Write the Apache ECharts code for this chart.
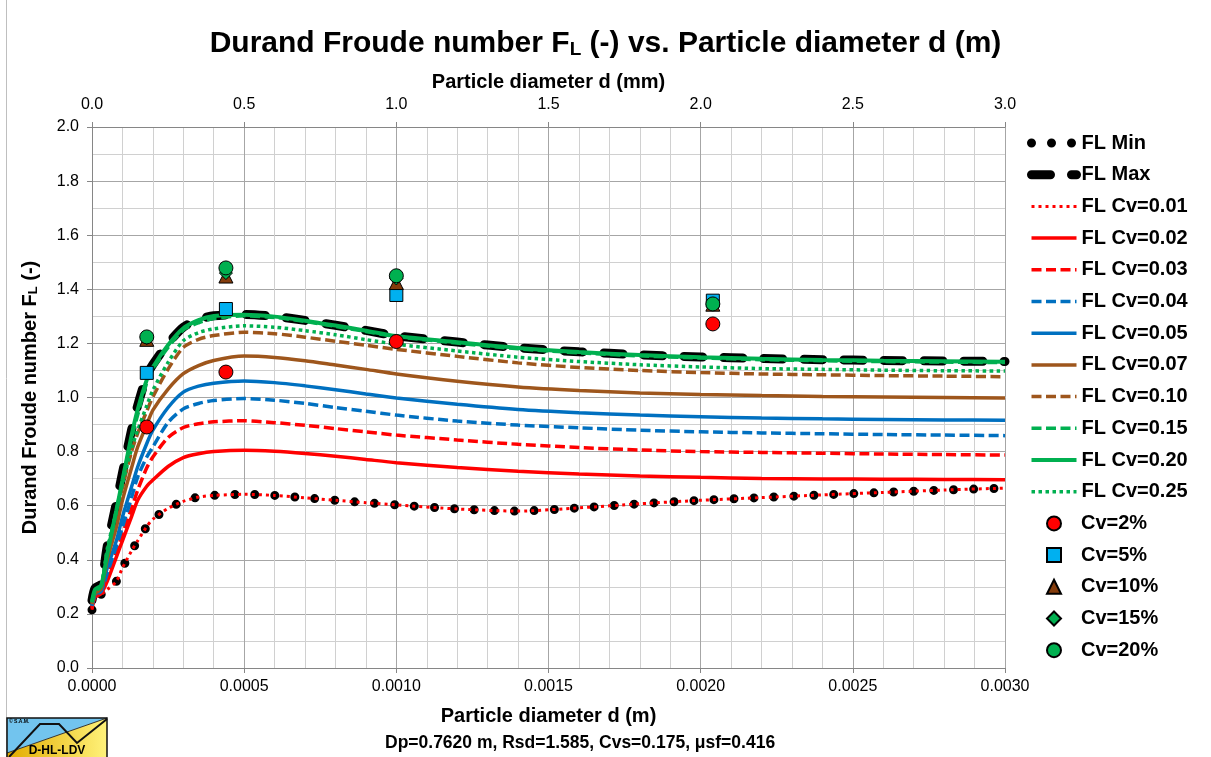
<!DOCTYPE html>
<html><head><meta charset="utf-8">
<script src="https://cdn.jsdelivr.net/npm/echarts@6/dist/echarts.min.js"></script>
<style>html,body{margin:0;padding:0;background:#fff}#c{width:1211px;height:757px}</style>
</head><body><div id="c"></div>
<script>
// Particle diameter d (m)
const dValues = [0, 0.00001, 0.00003, 0.00005, 0.00008, 0.0001, 0.00013, 0.00015, 0.00018, 0.0002, 0.00025, 0.0003, 0.00035, 0.0004, 0.0005, 0.0006, 0.0007, 0.0008, 0.0009, 0.001, 0.0012, 0.0014, 0.0016, 0.0018, 0.002, 0.0022, 0.0024, 0.0026, 0.0028, 0.003];
const flMin  = [0.215, 0.262, 0.272, 0.29, 0.32, 0.37, 0.433, 0.47, 0.523, 0.55, 0.59, 0.616, 0.632, 0.638, 0.642, 0.638, 0.629, 0.620, 0.611, 0.603, 0.588, 0.580, 0.592, 0.607, 0.620, 0.630, 0.640, 0.649, 0.658, 0.665];
const flMax  = [0.25, 0.295, 0.31, 0.45, 0.61, 0.72, 0.88, 0.97, 1.08, 1.122, 1.2, 1.26, 1.288, 1.302, 1.307, 1.300, 1.285, 1.267, 1.248, 1.228, 1.205, 1.184, 1.169, 1.158, 1.150, 1.144, 1.140, 1.137, 1.135, 1.133];
const flCv001 = [0.215, 0.262, 0.272, 0.29, 0.32, 0.37, 0.433, 0.47, 0.523, 0.55, 0.59, 0.616, 0.632, 0.638, 0.642, 0.638, 0.629, 0.620, 0.611, 0.603, 0.588, 0.580, 0.592, 0.607, 0.620, 0.630, 0.640, 0.649, 0.658, 0.665];
const flCv002 = [0.22, 0.262, 0.275, 0.32, 0.41, 0.47, 0.56, 0.62, 0.672, 0.695, 0.745, 0.778, 0.792, 0.800, 0.805, 0.801, 0.793, 0.783, 0.771, 0.759, 0.741, 0.727, 0.717, 0.710, 0.705, 0.701, 0.699, 0.698, 0.697, 0.696];
const flCv003 = [0.225, 0.265, 0.28, 0.34, 0.43, 0.496, 0.59, 0.657, 0.74, 0.78, 0.852, 0.889, 0.903, 0.910, 0.914, 0.907, 0.897, 0.885, 0.873, 0.861, 0.843, 0.827, 0.815, 0.806, 0.800, 0.797, 0.794, 0.791, 0.789, 0.787];
const flCv004 = [0.23, 0.268, 0.283, 0.35, 0.45, 0.521, 0.63, 0.706, 0.78, 0.817, 0.908, 0.958, 0.978, 0.989, 0.996, 0.990, 0.978, 0.963, 0.949, 0.935, 0.913, 0.898, 0.888, 0.879, 0.873, 0.869, 0.866, 0.863, 0.861, 0.859];
const flCv005 = [0.232, 0.272, 0.287, 0.37, 0.47, 0.558, 0.67, 0.743, 0.83, 0.879, 0.963, 1.020, 1.042, 1.053, 1.061, 1.055, 1.043, 1.029, 1.013, 0.998, 0.975, 0.956, 0.944, 0.935, 0.929, 0.924, 0.921, 0.919, 0.917, 0.916];
const flCv007 = [0.236, 0.276, 0.292, 0.40, 0.52, 0.62, 0.74, 0.817, 0.90, 0.953, 1.031, 1.088, 1.118, 1.137, 1.153, 1.148, 1.136, 1.120, 1.104, 1.087, 1.060, 1.039, 1.026, 1.017, 1.011, 1.007, 1.004, 1.002, 1.000, 0.998];
const flCv010 = [0.24, 0.28, 0.296, 0.43, 0.57, 0.669, 0.80, 0.867, 0.95, 1.002, 1.105, 1.185, 1.215, 1.229, 1.241, 1.236, 1.223, 1.208, 1.193, 1.178, 1.152, 1.128, 1.111, 1.100, 1.092, 1.087, 1.084, 1.081, 1.079, 1.077];
const flCv015 = [0.242, 0.286, 0.302, 0.43, 0.58, 0.69, 0.85, 0.935, 1.055, 1.105, 1.185, 1.25, 1.276, 1.292, 1.302, 1.296, 1.281, 1.263, 1.244, 1.225, 1.201, 1.180, 1.165, 1.154, 1.146, 1.140, 1.136, 1.133, 1.131, 1.129];
const flCv020 = [0.245, 0.29, 0.305, 0.42, 0.583, 0.694, 0.86, 0.955, 1.065, 1.112, 1.194, 1.256, 1.286, 1.301, 1.306, 1.299, 1.284, 1.266, 1.247, 1.227, 1.204, 1.183, 1.168, 1.157, 1.149, 1.143, 1.139, 1.136, 1.134, 1.132];
const flCv025 = [0.245, 0.285, 0.30, 0.44, 0.58, 0.68, 0.81, 0.879, 0.97, 1.027, 1.13, 1.21, 1.24, 1.254, 1.265, 1.260, 1.247, 1.232, 1.214, 1.197, 1.172, 1.149, 1.133, 1.121, 1.113, 1.107, 1.104, 1.101, 1.099, 1.098];
// measured points
const measD = [0.00018, 0.00044, 0.001, 0.00204];
const meas2  = [0.891, 1.094, 1.207, 1.272];
const meas5  = [1.091, 1.327, 1.379, 1.358];
const meas10 = [1.215, 1.449, 1.425, 1.345];
const meas15 = [1.220, 1.460, 1.440, 1.345];
const meas20 = [1.224, 1.479, 1.450, 1.346];
// tick labels
const yTicks = [0, 0.2, 0.4, 0.6, 0.8, 1.0, 1.2, 1.4, 1.6, 1.8, 2.0];

const FONT = '"Liberation Sans", Arial, sans-serif';
const RED = '#FF0000', BLUE = '#0070C0', BROWN = '#9E561C', GREEN = '#00B050';

function lineSeries(name, vals, color, width, type, cap) {
  return {
    type: 'line', name, symbol: 'none', smooth: 0.25, clip: false,
    data: dValues.map((d, i) => [d, vals[i]]),
    lineStyle: { color, width, type: type || 'solid', cap: cap || 'butt', opacity: 1 },
    itemStyle: { color, opacity: 0 },
    emphasis: { disabled: true }
  };
}
function scatterSeries(name, vals, symbol, size, color) {
  return {
    type: 'scatter', name, symbol, symbolSize: size,
    data: measD.map((d, i) => [d, vals[i]]),
    itemStyle: { color, borderColor: '#000', borderWidth: 1, opacity: 1 },
    emphasis: { disabled: true },
    z: 5
  };
}

const lineList = [
  lineSeries('FL Min', flMin, '#000', 9, [0, 20], 'round'),
  lineSeries('FL Max', flMax, '#000', 9, [19, 21], 'round'),
  lineSeries('FL Cv=0.01', flCv001, RED, 3, [3, 4]),
  lineSeries('FL Cv=0.02', flCv002, RED, 3.5),
  lineSeries('FL Cv=0.03', flCv003, RED, 3.5, [10, 4.5]),
  lineSeries('FL Cv=0.04', flCv004, BLUE, 3.5, [10, 4.5]),
  lineSeries('FL Cv=0.05', flCv005, BLUE, 3.5),
  lineSeries('FL Cv=0.07', flCv007, BROWN, 3.5),
  lineSeries('FL Cv=0.10', flCv010, BROWN, 3.5, [10, 4.5]),
  lineSeries('FL Cv=0.15', flCv015, GREEN, 3.5, [10, 4.5]),
  lineSeries('FL Cv=0.20', flCv020, GREEN, 4),
  lineSeries('FL Cv=0.25', flCv025, GREEN, 3.5, [3.5, 3.5])
];
const scatterList = [
  scatterSeries('Cv=2%', meas2, 'circle', 14, RED),
  scatterSeries('Cv=5%', meas5, 'rect', 13, '#00B0F0'),
  scatterSeries('Cv=10%', meas10, 'triangle', 14, '#843C0C'),
  scatterSeries('Cv=15%', meas15, 'diamond', 13, GREEN),
  scatterSeries('Cv=20%', meas20, 'circle', 14, GREEN)
];
const series = lineList.concat(scatterList);

const legendText = { fontFamily: FONT, fontSize: 20, fontWeight: 'bold', color: '#000', lineHeight: 20 };
const chart = echarts.init(document.getElementById('c'), null, { renderer: 'canvas' });
const axisGray = '#868686';
chart.setOption({
  animation: false,
  backgroundColor: '#fff',
  title: {
    text: 'Durand Froude number F{sub|L} (-) vs. Particle diameter d (m)',
    left: 'center', top: 24,
    textStyle: {
      fontFamily: FONT, fontSize: 30, fontWeight: 'bold', color: '#000',
      rich: { sub: { fontFamily: FONT, fontSize: 19, fontWeight: 'bold', color: '#000', verticalAlign: 'bottom', lineHeight: 6 } }
    }
  },
  legend: [
    {
      orient: 'vertical', left: 1027, top: 133, padding: 0,
      itemWidth: 45, itemHeight: 14, itemGap: 11.7,
      textStyle: legendText,
      lineStyle: { width: 'inherit' },
      selectedMode: false,
      data: lineList.map(s => s.name)
    },
    {
      orient: 'vertical', left: 1046, top: 513.4, padding: 0,
      itemWidth: 14, itemHeight: 14, itemGap: 11.7,
      textStyle: Object.assign({ padding: [0, 0, 0, 15] }, legendText),
      selectedMode: false,
      data: scatterList.map(s => s.name)
    }
  ],
  grid: { left: 92, right: 206, top: 127, bottom: 89 },
  xAxis: [
    {
      type: 'value', position: 'bottom', min: 0, max: 0.003, interval: 0.0005,
      name: 'Particle diameter d (m)', nameLocation: 'middle', nameGap: 38,
      nameTextStyle: { fontFamily: FONT, fontSize: 20, fontWeight: 'bold', color: '#000' },
      axisLine: { show: true, lineStyle: { color: axisGray, width: 1 } },
      axisTick: { show: true, length: 5, lineStyle: { color: axisGray } },
      axisLabel: { margin: 11, fontFamily: FONT, fontSize: 16, color: '#000', formatter: v => v.toFixed(4) },
      splitLine: { show: true, lineStyle: { color: '#A6A6A6', width: 1 } },
      minorTick: { show: false, splitNumber: 5 },
      minorSplitLine: { show: true, lineStyle: { color: '#D0D0D0', width: 1 } }
    },
    {
      type: 'value', position: 'top', min: 0, max: 3, interval: 0.5,
      name: 'Particle diameter d (mm)', nameLocation: 'middle', nameGap: 35,
      nameTextStyle: { fontFamily: FONT, fontSize: 20, fontWeight: 'bold', color: '#000' },
      axisLine: { show: true, lineStyle: { color: axisGray, width: 1 } },
      axisTick: { show: true, length: 5, lineStyle: { color: axisGray } },
      axisLabel: { margin: 14, fontFamily: FONT, fontSize: 16, color: '#000', formatter: v => v.toFixed(1) },
      splitLine: { show: false }
    }
  ],
  yAxis: {
    type: 'value', min: yTicks[0], max: yTicks[yTicks.length - 1], interval: 0.2,
    name: 'Durand Froude number F{sub|L} (-)', nameLocation: 'middle', nameGap: 52,
    nameTextStyle: {
      fontFamily: FONT, fontSize: 20, fontWeight: 'bold', color: '#000',
      rich: { sub: { fontFamily: FONT, fontSize: 13, fontWeight: 'bold', color: '#000', verticalAlign: 'bottom', lineHeight: 6 } }
    },
    axisLine: { show: true, lineStyle: { color: axisGray, width: 1 } },
    axisTick: { show: true, length: 5, lineStyle: { color: axisGray } },
    axisLabel: { margin: 13, fontFamily: FONT, fontSize: 16, color: '#000', formatter: v => v.toFixed(1) },
    splitLine: { show: true, lineStyle: { color: '#A6A6A6', width: 1 } },
    minorTick: { show: false, splitNumber: 2 },
    minorSplitLine: { show: true, lineStyle: { color: '#D0D0D0', width: 1 } }
  },
  series,
  graphic: [
    { type: 'line', shape: { x1: 6.5, y1: 0, x2: 6.5, y2: 757 }, style: { stroke: '#BFBFBF', lineWidth: 1 }, silent: true },
    { type: 'text', left: 385, top: 734, style: { text: 'Dp=0.7620 m, Rsd=1.585, Cvs=0.175, μsf=0.416', font: 'bold 17.5px ' + FONT, fill: '#000' } },
    { type: 'polygon', shape: { points: [[7, 718], [107, 718], [7, 753]] }, style: { fill: '#72C4EE' } },
    { type: 'polygon', shape: { points: [[7, 753], [107, 718], [107, 757], [7, 757]] },
      style: { fill: new echarts.graphic.LinearGradient(0, 0, 1, 0, [{ offset: 0, color: '#E2AC00' }, { offset: 1, color: '#FFF27A' }]) } },
    { type: 'line', shape: { x1: 7, y1: 753, x2: 107, y2: 718 }, style: { stroke: '#333', lineWidth: 1 } },
    { type: 'polyline', shape: { points: [[9, 757], [40, 724], [59, 724], [77, 743], [107, 719]] }, style: { stroke: '#111', lineWidth: 2, fill: null } },
    { type: 'rect', shape: { x: 7, y: 718, width: 100, height: 42 }, style: { stroke: '#111', lineWidth: 1.5, fill: null } },
    { type: 'text', x: 57, y: 751, style: { text: 'D-HL-LDV', font: 'bold 12px ' + FONT, fill: '#000', textAlign: 'center', textVerticalAlign: 'middle' } },
    { type: 'text', x: 9, y: 722, style: { text: '© S.A.M.', font: 'bold 5px ' + FONT, fill: '#000', textVerticalAlign: 'middle' } }
  ]
});
</script>
</body></html>
